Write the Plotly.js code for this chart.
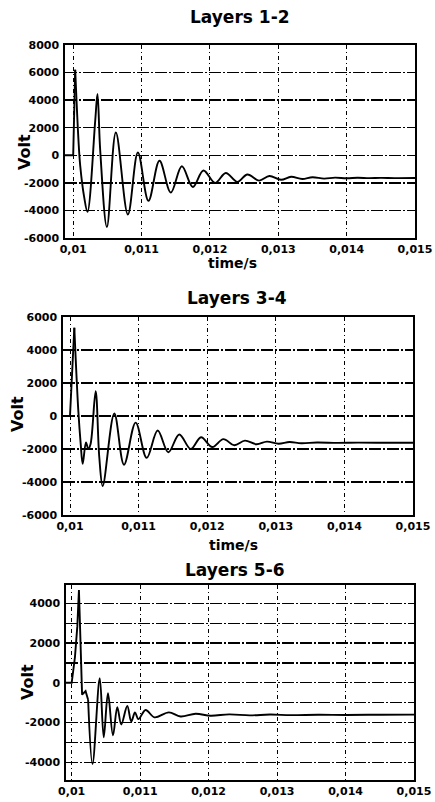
<!DOCTYPE html>
<html>
<head>
<meta charset="utf-8">
<script src="https://cdn.plot.ly/plotly-3.0.1.min.js"></script>
<style>
  html, body { margin: 0; padding: 0; background: #fff; }
  #chart { width: 435px; height: 802px; }
</style>
</head>
<body>
<div id="chart"></div>
<script>
// ---- Data (time in s, voltage in V) ----
const titles = ["Layers 1-2", "Layers 3-4", "Layers 5-6"];

const xTickVals = [0.010, 0.011, 0.012, 0.013, 0.014, 0.015];
const xTickText = ["0,01", "0,011", "0,012", "0,013", "0,014", "0,015"];

const yTickVals1 = [-6000, -4000, -2000, 0, 2000, 4000, 6000, 8000];
const yTickText1 = ["-6000", "-4000", "-2000", "0", "2000", "4000", "6000", "8000"];
const yTickVals2 = [-6000, -4000, -2000, 0, 2000, 4000, 6000];
const yTickText2 = ["-6000", "-4000", "-2000", "0", "2000", "4000", "6000"];
const yTickVals3 = [-4000, -3000, -2000, -1000, 0, 1000, 2000, 3000, 4000];
const yTickText3 = ["-4000", "", "-2000", "", "0", "", "2000", "", "4000"];

// Layers 1-2: onset (sharp rise) then ringing
const onsetT1 = [0.00988, 0.01, 0.010029];
const onsetV1 = [0, 0, 6200];
const ringT1 = [0.010029, 0.010077, 0.010102, 0.01016, 0.010209, 0.010322, 0.010355, 0.010395,
  0.010493, 0.010624, 0.0108, 0.010946, 0.011101, 0.011262, 0.011428, 0.011589, 0.01175,
  0.011905, 0.012076, 0.012232, 0.012402, 0.012548, 0.01272, 0.01287, 0.01304, 0.013187,
  0.01335, 0.0135, 0.01367, 0.01383, 0.0140, 0.01416, 0.01433, 0.0145, 0.0147, 0.015];
const ringV1 = [6200, 1090, -730, -3020, -4100, 2500, 4450, 360,
  -5200, 1650, -4300, 200, -3300, -400, -2700, -800, -2300,
  -1100, -2000, -1280, -1930, -1390, -1840, -1500, -1780, -1560,
  -1720, -1590, -1690, -1620, -1670, -1630, -1660, -1640, -1655, -1650];

// Layers 3-4
const onsetT2 = [0.009898, 0.01, 0.010063];
const onsetV2 = [0, 0, 5350];
const ringT2 = [0.010063, 0.010121, 0.010156, 0.010185, 0.010233, 0.010267, 0.0103, 0.010374,
  0.010427, 0.010477, 0.010646, 0.010787, 0.010957, 0.011118, 0.011278, 0.011433, 0.011593,
  0.01176, 0.01191, 0.012075, 0.012235, 0.012395, 0.01255, 0.01272, 0.01287, 0.01304,
  0.0132, 0.01337, 0.0136, 0.0139, 0.0142, 0.0146, 0.015];
const ringV2 = [5350, 330, -1690, -2900, -1600, -2000, -1700, 1500,
  -2500, -4250, 150, -2950, -400, -2540, -880, -2200, -1120,
  -2000, -1290, -1880, -1400, -1770, -1490, -1710, -1550, -1680,
  -1580, -1650, -1610, -1630, -1615, -1625, -1620];

// Layers 5-6
const onsetT3 = [0.009917, 0.01, 0.010048, 0.010082, 0.010106, 0.010152, 0.010203, 0.01024];
const onsetV3 = [0, 0, 1300, 2830, 4680, -600, -420, -850];
const ringT3 = [0.01024, 0.010304, 0.01041, 0.010468, 0.01053, 0.010603, 0.010666, 0.010724,
  0.010812, 0.01087, 0.010925, 0.010975, 0.01108, 0.01121, 0.01142, 0.01159, 0.01181,
  0.01203, 0.0123, 0.0126, 0.0129, 0.0132, 0.0136, 0.0140, 0.0145, 0.015];
const ringV3 = [-850, -4100, 230, -2750, -530, -2650, -1230, -2100,
  -1170, -1950, -1500, -1830, -1370, -1740, -1490, -1700, -1560,
  -1660, -1590, -1640, -1600, -1630, -1610, -1620, -1610, -1605];

// ---- Layout helpers (pixel geometry of the 435x802 page) ----
const W = 435, H = 802;
const px = v => v / W;
const py = v => 1 - v / H;
const FONT = "DejaVu Sans";

const lineStyle = {color: "#000", width: 1.9};
const traces = [
  {x: onsetT1, y: onsetV1, xaxis: "x", yaxis: "y", mode: "lines", line: {...lineStyle, shape: "linear"}},
  {x: ringT1, y: ringV1, xaxis: "x", yaxis: "y", mode: "lines", line: {...lineStyle, shape: "spline", smoothing: 1}},
  {x: onsetT2, y: onsetV2, xaxis: "x2", yaxis: "y2", mode: "lines", line: {...lineStyle, shape: "linear"}},
  {x: ringT2, y: ringV2, xaxis: "x2", yaxis: "y2", mode: "lines", line: {...lineStyle, shape: "spline", smoothing: 1}},
  {x: onsetT3, y: onsetV3, xaxis: "x3", yaxis: "y3", mode: "lines", line: {...lineStyle, shape: "linear"}},
  {x: ringT3, y: ringV3, xaxis: "x3", yaxis: "y3", mode: "lines", line: {...lineStyle, shape: "spline", smoothing: 1}}
];

function xAxis(domain, range, anchor) {
  return {
    domain: domain, range: range, anchor: anchor,
    tickmode: "array", tickvals: xTickVals, ticktext: xTickText,
    showgrid: true, gridcolor: "#000", gridwidth: 1, griddash: "4px,3px,1px,3px",
    showline: true, mirror: true, linecolor: "#000", linewidth: 1.6,
    ticks: "", zeroline: false, fixedrange: true,
    tickfont: {family: FONT, size: 11, color: "#000", weight: "bold"}
  };
}
function yAxis(domain, range, anchor, vals, text) {
  return {
    domain: domain, range: range, anchor: anchor,
    tickmode: "array", tickvals: vals, ticktext: text,
    showgrid: true, gridcolor: "#000", gridwidth: 1.3, griddash: "12px,2px,2px,2px",
    showline: true, mirror: true, linecolor: "#000", linewidth: 1.6,
    ticks: "outside", ticklen: 2, tickcolor: "rgba(0,0,0,0)", zeroline: false, fixedrange: true,
    tickfont: {family: FONT, size: 11, color: "#000", weight: "bold"}
  };
}

function ann(text, x, y, size, angle) {
  return {
    text: text, xref: "paper", yref: "paper", x: px(x), y: py(y),
    xanchor: "center", yanchor: "middle", showarrow: false, textangle: angle || 0,
    font: {family: FONT, size: size, color: "#000", weight: "bold"}
  };
}

const layout = {
  width: W, height: H,
  margin: {l: 0, r: 0, t: 0, b: 0},
  paper_bgcolor: "#fff", plot_bgcolor: "#fff",
  showlegend: false,
  xaxis: xAxis([px(65), px(415)], [0.00988, 0.015], "y"),
  yaxis: yAxis([py(238), py(45)], [-6000, 8000], "x", yTickVals1, yTickText1),
  xaxis2: xAxis([px(63), px(413)], [0.009898, 0.015], "y2"),
  yaxis2: yAxis([py(515), py(317)], [-6000, 6000], "x2", yTickVals2, yTickText2),
  xaxis3: xAxis([px(66), px(414)], [0.009917, 0.015], "y3"),
  yaxis3: yAxis([py(780), py(585)], [-4900, 4930], "x3", yTickVals3, yTickText3),
  annotations: [
    ann(titles[0], 240, 17, 17),
    ann("time/s", 232, 263, 14),
    ann("Volt", 25, 152, 16, -90),
    ann(titles[1], 237, 298, 17),
    ann("time/s", 233, 545, 14),
    ann("Volt", 17, 414, 16, -90),
    ann(titles[2], 235, 570, 17),
    ann("Volt", 27, 682, 16, -90)
  ]
};

Plotly.newPlot("chart", traces, layout, {displayModeBar: false, staticPlot: true});
</script>
</body>
</html>
